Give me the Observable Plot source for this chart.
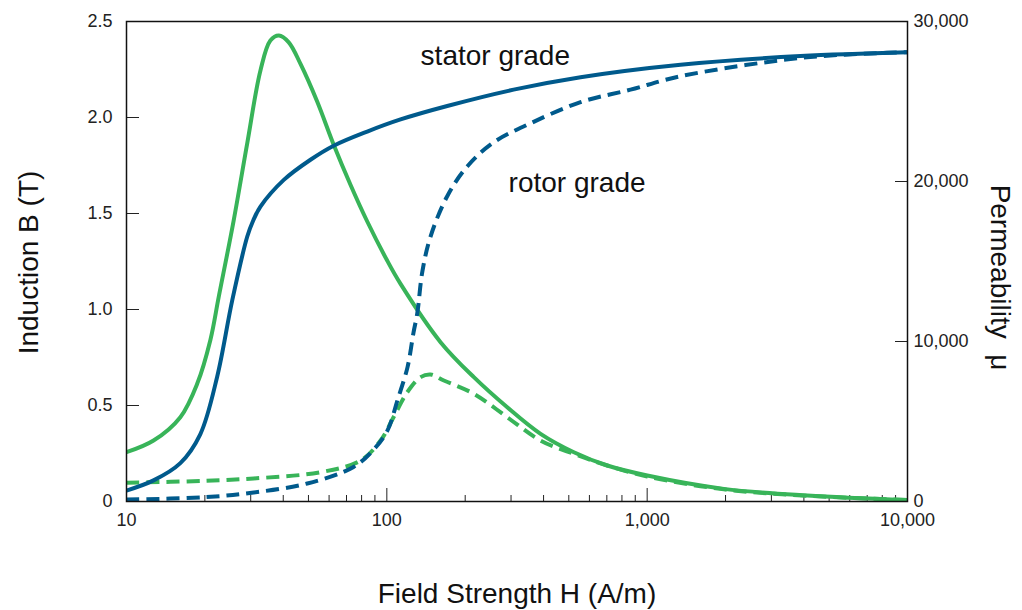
<!DOCTYPE html>
<html><head><meta charset="utf-8">
<script src="https://cdn.jsdelivr.net/npm/d3@7"></script>
<script src="https://cdn.jsdelivr.net/npm/@observablehq/plot@0.6"></script>
<style>html,body{margin:0;padding:0;background:#fff}</style>
</head><body><div id="chart"></div>
<script>
// ---- data ----
const statorBH = [10, 12.7, 16.1, 19.2, 22.3, 25.5, 29.1, 30.7, 32.7, 40.2, 50.9, 62.5, 84.1, 112.9, 170.6, 306.9, 554.8, 1343, 3882, 10000];
const statorB  = [0.057, 0.11, 0.20, 0.35, 0.65, 1.05, 1.38, 1.465, 1.536, 1.675, 1.78, 1.853, 1.927, 1.99, 2.06, 2.145, 2.21, 2.275, 2.32, 2.34];

const rotorBH = [10, 19.8, 30.8, 49.5, 74.5, 88.9, 100.6, 110, 120.1, 126.6, 130.9, 137, 147.2, 170.6, 203.6, 257, 356.6, 554.8, 863, 1343, 3882, 7675, 10000];
const rotorB  = [0.01, 0.022, 0.047, 0.094, 0.18, 0.27, 0.37, 0.53, 0.70, 0.88, 0.98, 1.2, 1.38, 1.59, 1.745, 1.87, 1.97, 2.08, 2.145, 2.215, 2.31, 2.335, 2.34];

const statorMuH = [10, 12.7, 16.1, 18.7, 21.0, 22.6, 25.8, 29.1, 32.7, 35.7, 38.5, 42.0, 46.6, 54.0, 62.5, 72.5, 84.1, 100.3, 112.9, 160.8, 215.9, 290.1, 389.5, 522.9, 702.5, 1001, 1971, 4121, 10000];
const statorMu  = [3080, 3810, 5270, 7370, 10100, 12770, 17560, 22400, 26940, 28810, 29125, 28700, 27350, 25000, 22300, 19800, 17500, 15060, 13600, 9960, 7770, 5890, 4230, 3080, 2250, 1625, 790, 375, 90];

const rotorMuH = [10, 20, 30.8, 55.6, 79.3, 94.6, 106.1, 119.8, 134.8, 147.2, 165.6, 215.9, 290.1, 389.5, 522.9, 702.5, 1001, 1971, 4121, 10000];
const rotorMu  = [1170, 1290, 1440, 1830, 2560, 3810, 5270, 6830, 7770, 7940, 7560, 6730, 5270, 3810, 2980, 2250, 1560, 760, 360, 90];

const leftTicks  = [0, 0.5, 1.0, 1.5, 2.0, 2.5];
const rightTicks = [0, 10000, 20000, 30000];
const majorX = [10, 100, 1000, 10000];
const minorX = [20,30,40,50,60,70,80,90,200,300,400,500,600,700,800,900,2000,3000,4000,5000,6000,7000,8000,9000];

const labels = {
  stator: "stator grade", rotor: "rotor grade",
  xTitle: "Field Strength H (A/m)", yTitle: "Induction B (T)", y2Title: "Permeability\u00a0 μ"
};
const annot = [
  {text: labels.stator, H: 134.8, B: 2.32},
  {text: labels.rotor, H: 293.5, B: 1.66}
];

// ---- build ----
const muPerB = 12000; // 30,000 on the right axis = 2.5 on the left axis
const blue = "#005a8c", green = "#38b459";
const font = "'Liberation Sans', Arial, Helvetica, sans-serif";
const rows = (H, V, k = 1) => H.map((h, i) => ({H: h, v: V[i] / k}));

const lineOpts = (color, dashed) => ({
  x: "H", y: "v", stroke: color, strokeWidth: 4, curve: "catmull-rom",
  strokeDasharray: dashed ? "13,7" : null, strokeLinecap: "butt"
});
const title = {frameAnchor: "middle", textAnchor: "middle", lineAnchor: "middle", fontSize: 28, fill: "#111"};
const tickFont = 18;

const chart = Plot.plot({
  width: 1022, height: 610,
  marginLeft: 126, marginRight: 115, marginTop: 21, marginBottom: 109,
  style: {fontFamily: font, fontSize: "18px", color: "#222", background: "#fff", overflow: "visible"},
  x: {type: "log", domain: [10, 10000]},
  y: {domain: [0, 2.5]},
  marks: [
    Plot.axisY(leftTicks, {anchor: "left", tickSize: 13, insetLeft: 13, tickPadding: 14, fontSize: tickFont,
      tickFormat: d => d === 0 ? "0" : d.toFixed(1), label: null}),
    Plot.axisY(rightTicks.map(v => v / muPerB), {anchor: "right", tickSize: 13, insetRight: 13, tickPadding: 6, fontSize: tickFont,
      tickFormat: d => d3.format(",")(Math.round(d * muPerB)), label: null}),
    Plot.axisX(majorX, {anchor: "bottom", tickSize: 13, insetBottom: 13, tickPadding: 12, fontSize: tickFont,
      tickFormat: d3.format(","), label: null}),
    Plot.axisX(minorX, {anchor: "bottom", tickSize: 6, insetBottom: 6, tickFormat: () => "", label: null}),
    Plot.line(rows(statorMuH, statorMu, muPerB), lineOpts(green, false)),
    Plot.line(rows(rotorMuH, rotorMu, muPerB), lineOpts(green, true)),
    Plot.line(rows(rotorBH, rotorB), lineOpts(blue, true)),
    Plot.line(rows(statorBH, statorB), lineOpts(blue, false)),
    Plot.frame({stroke: "#111", strokeWidth: 1.5}),
    Plot.text(annot, {x: "H", y: "B", text: "text", textAnchor: "start", lineAnchor: "middle", fontSize: 28, fill: "#111"}),
    Plot.text([labels.xTitle], {...title, text: d => d, dy: 333}),
    Plot.text([labels.yTitle], {...title, text: d => d, dx: -488, dy: 1, rotate: -90}),
    Plot.text([labels.y2Title], {...title, text: d => d, dx: 483, dy: 16, rotate: 90})
  ]
});
document.getElementById("chart").appendChild(chart);
</script>
</body></html>
